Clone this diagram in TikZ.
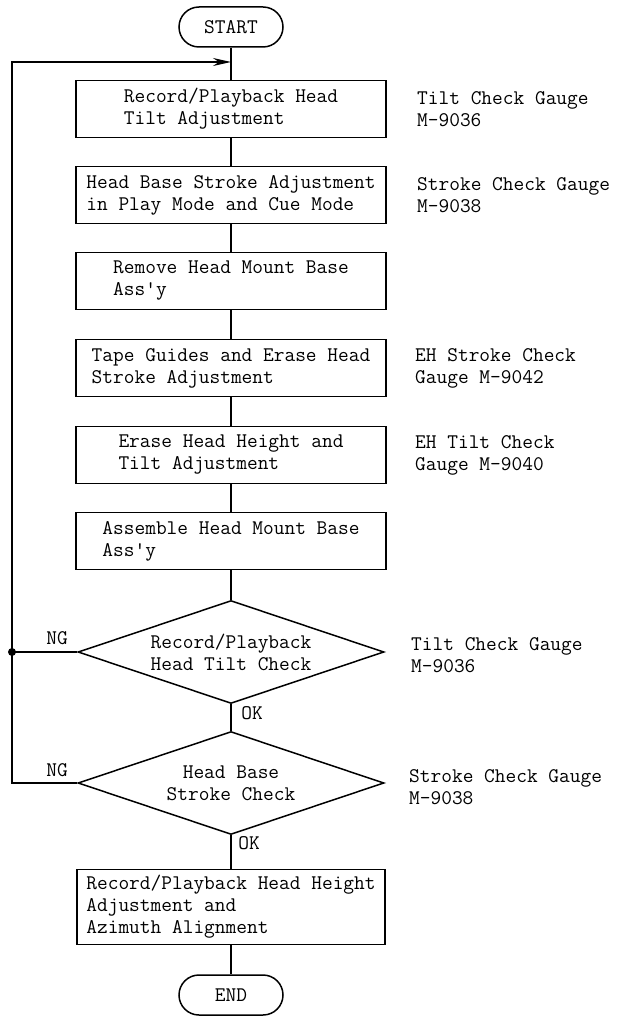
\documentclass[tikz,border=0pt]{standalone}
\usepackage{fontspec}
\usetikzlibrary{shapes.geometric,arrows.meta}
\tikzset{
  proc/.style={rectangle,draw,line width=1.5pt,minimum width=310pt,minimum height=57pt,align=left,inner sep=2pt},
  term/.style={rectangle,draw,line width=1.5pt,rounded corners=20pt,minimum width=104pt,minimum height=40pt},
  decide/.style={diamond,draw,line width=1.5pt,aspect=3,inner sep=1pt,minimum width=306pt,minimum height=103pt,align=center},
  gauge/.style={anchor=west,align=left,inner sep=2pt},
  tag/.style={inner sep=1pt},
  flow/.style={line width=1.5pt}
}

\begin{document}
\begin{tikzpicture}[x=1pt,y=-1pt,every node/.style={font=\fontsize{20.8}{22}\selectfont\ttfamily}]
  \useasboundingbox (0,0) rectangle (625,1016);
  \node[term] (start) at (231,27) {START};
  \node[proc] (b1) at (231,109) {Record/Playback Head\\Tilt Adjustment};
  \node[proc] (b2) at (231,195) {Head Base Stroke Adjustment\\in Play Mode and Cue Mode};
  \node[proc] (b3) at (231,281) {Remove Head Mount Base\\Ass'y};
  \node[proc] (b4) at (231,368) {Tape Guides and Erase Head\\Stroke Adjustment};
  \node[proc] (b5) at (231,455) {Erase Head Height and\\Tilt Adjustment};
  \node[proc] (b6) at (231,541) {Assemble Head Mount Base\\Ass'y};
  \node[decide] (d1) at (231,652) {Record/Playback\\Head Tilt Check};
  \node[decide] (d2) at (231,783) {Head Base\\Stroke Check};
  \node[proc,minimum width=308pt,minimum height=75pt] (b7) at (231,907)
    {Record/Playback Head Height\\Adjustment and\\Azimuth Alignment};
  \node[term] (stop) at (231,995) {END};
  % gauges on the right
  \node[gauge] (g1) at (415,109) {Tilt Check Gauge\\M-9036};
  \node[gauge] (g2) at (415,195) {Stroke Check Gauge\\M-9038};
  \node[gauge] (g4) at (413,368) {EH Stroke Check\\Gauge M-9042};
  \node[gauge] (g5) at (413,455) {EH Tilt Check\\Gauge M-9040};
  \node[gauge] (g8) at (409,655) {Tilt Check Gauge\\M-9036};
  \node[gauge] (g9) at (407,787) {Stroke Check Gauge\\M-9038};
  \node[tag] (ng1) at (57,638) {NG};
  \node[tag] (ng2) at (57,770) {NG};
  \node[tag] (ok1) at (252,713) {OK};
  \node[tag] (ok2) at (249,843) {OK};
  % connectors
  \coordinate (join) at (231,62);
  \coordinate (loop) at (12,62);
  \coordinate (ngA) at (12,652);
  \coordinate (ngB) at (12,783);
  \foreach \a/\b in {start/b1,b1/b2,b2/b3,b3/b4,b4/b5,b5/b6,b6/d1,d1/d2,d2/b7,b7/stop}
    \draw[flow] (\a) -- (\b);
  \draw[flow] (d1.west) -- (ngA);
  \draw[flow,-{Stealth[length=18pt,width=8pt]}] (d2.west) -- (ngB) -- (loop) -- (join);
  \fill (ngA) circle (4pt);
\end{tikzpicture}
\end{document}
